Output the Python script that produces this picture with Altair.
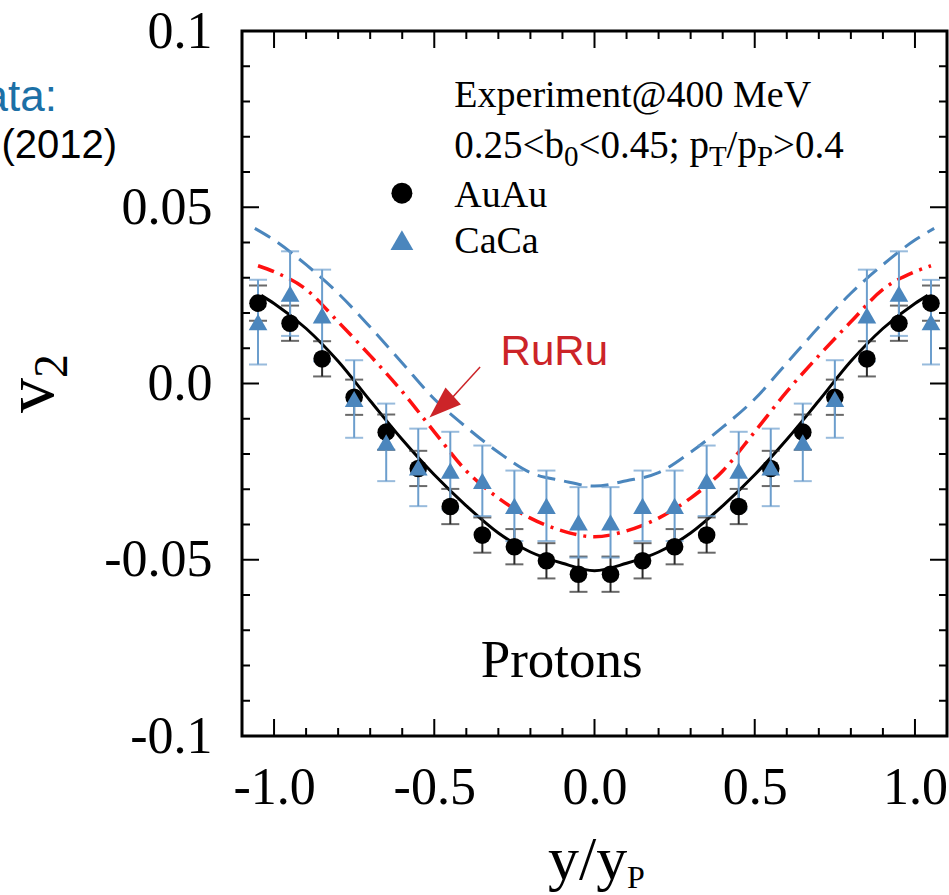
import altair as alt
import pandas as pd

# ---------------- data ----------------
pt_x = [-1.05, -0.95, -0.85, -0.75, -0.65, -0.55, -0.45, -0.35, -0.25, -0.15, -0.05,
        0.05, 0.15, 0.25, 0.35, 0.45, 0.55, 0.65, 0.75, 0.85, 0.95, 1.05]
auau_v2 = [0.0228, 0.0171, 0.0070, -0.0039, -0.0138, -0.0241, -0.0349, -0.0430, -0.0463, -0.0503, -0.0541,
           -0.0541, -0.0503, -0.0463, -0.0430, -0.0349, -0.0241, -0.0138, -0.0039, 0.0070, 0.0171, 0.0228]
auau_err = [0.005] * 22
caca_v2 = [0.0174, 0.0255, 0.0193, -0.0044, -0.0167, -0.0238, -0.0247, -0.0276, -0.0347, -0.0347, -0.0394,
           -0.0394, -0.0347, -0.0347, -0.0276, -0.0247, -0.0238, -0.0167, -0.0044, 0.0193, 0.0255, 0.0174]
caca_err = [0.012, 0.012, 0.013, 0.011, 0.011, 0.011, 0.011, 0.010, 0.010, 0.010, 0.010,
            0.010, 0.010, 0.010, 0.010, 0.011, 0.011, 0.011, 0.011, 0.013, 0.012, 0.012]

black_x = [-1.04, -1.0, -0.9, -0.8, -0.7, -0.6, -0.5, -0.4, -0.3, -0.2, -0.1, 0.0,
           0.1, 0.2, 0.3, 0.4, 0.5, 0.6, 0.7, 0.8, 0.9, 1.0, 1.04]
black_v2 = [0.0250, 0.0227, 0.0156, 0.0063, -0.0049, -0.0159, -0.0259, -0.0347, -0.0424, -0.0478, -0.0510, -0.0531,
            -0.0510, -0.0478, -0.0424, -0.0347, -0.0259, -0.0159, -0.0049, 0.0063, 0.0156, 0.0227, 0.0250]
red_x = [-1.05, -1.0, -0.9, -0.8, -0.7, -0.6, -0.5, -0.4, -0.3, -0.2, -0.1, 0.0,
         0.1, 0.2, 0.3, 0.4, 0.5, 0.6, 0.7, 0.8, 0.9, 1.0, 1.05]
red_v2 = [0.0334, 0.0317, 0.0267, 0.0175, 0.0079, -0.0023, -0.0137, -0.0248, -0.0325, -0.0382, -0.0418, -0.0435,
          -0.0418, -0.0382, -0.0325, -0.0248, -0.0137, -0.0023, 0.0079, 0.0175, 0.0267, 0.0317, 0.0334]
blue_x = [-1.06, -1.0, -0.9, -0.8, -0.7, -0.6, -0.5, -0.4, -0.3, -0.2, -0.1, 0.0,
          0.1, 0.2, 0.3, 0.4, 0.5, 0.6, 0.7, 0.8, 0.9, 1.0, 1.06]
blue_v2 = [0.0440, 0.0407, 0.0337, 0.0256, 0.0160, 0.0058, -0.0044, -0.0124, -0.0195, -0.0253, -0.0276, -0.0291,
           -0.0276, -0.0253, -0.0195, -0.0124, -0.0044, 0.0058, 0.0160, 0.0256, 0.0337, 0.0407, 0.0440]

x_labels = [-1.0, -0.5, 0.0, 0.5, 1.0]
y_labels = [-0.1, -0.05, 0.0, 0.05, 0.1]
x_major_ticks = [-1.0, -0.5, 0.0, 0.5, 1.0]
x_minor_ticks = [-0.9, -0.8, -0.7, -0.6, -0.4, -0.3, -0.2, -0.1,
                 0.1, 0.2, 0.3, 0.4, 0.6, 0.7, 0.8, 0.9]
y_major_ticks = [-0.05, 0.0, 0.05]
y_minor_ticks = [-0.09, -0.08, -0.07, -0.06, -0.04, -0.03, -0.02, -0.01,
                 0.01, 0.02, 0.03, 0.04, 0.06, 0.07, 0.08, 0.09]

# annotation anchors (data coordinates)
info_x = -0.4375
info_line1_y = 0.0784
info_line2_y = 0.0640
legend_text_y = [0.0501, 0.0370]
legend_names = ["AuAu", "CaCa"]
legend_marker_x = -0.601
legend_marker_y = [0.0540, 0.0407]
ruru_pos = (-0.293, 0.0052)
arrow_from = (-0.357, 0.0047)
arrow_to = (-0.445, -0.0041)
arrow_head = (-0.478, -0.0066)
protons_pos = (-0.355, -0.0833)

# ---------------- styles ----------------
W = H = 705
SERIF = "Liberation Serif"
SANS = "Liberation Sans"
BLUE = "#4b86bd"
BLUE_ERR = "#6c9ecd"
RED_TXT = "#cc2428"

xs = alt.Scale(domain=[-1.1, 1.1], nice=False, zero=False)
ys = alt.Scale(domain=[-0.1, 0.1], nice=False, zero=False)
xaxis = alt.Axis(values=x_labels, title=None, domain=False, ticks=False, grid=False,
                 labelExpr="replace(format(datum.value, '.1f'), '\u2212', '-')",
                 labelFont=SERIF, labelFontSize=52, labelColor="black",
                 labelPadding=26, labelFlush=False, labelOverlap=False)
yaxis = alt.Axis(values=y_labels, title=None, domain=False, ticks=False, grid=False,
                 labelExpr="datum.value == 0 ? '0.0' : '' + datum.value",
                 labelFont=SERIF, labelFontSize=52, labelColor="black",
                 labelPadding=30, labelFlush=False, labelOverlap=False)


def X(f):
    return alt.X(f, type="quantitative", scale=xs, axis=xaxis)


def Y(f):
    return alt.Y(f, type="quantitative", scale=ys, axis=yaxis)


pts = pd.DataFrame({"x": pt_x, "au": auau_v2, "au_err": auau_err, "ca": caca_v2, "ca_err": caca_err})
pts["au_lo"] = pts["au"] - pts["au_err"]
pts["au_hi"] = pts["au"] + pts["au_err"]
pts["ca_lo"] = pts["ca"] - pts["ca_err"]
pts["ca_hi"] = pts["ca"] + pts["ca_err"]

layers = []

# curves
layers.append(alt.Chart(pd.DataFrame({"x": blue_x, "v": blue_v2})).mark_line(
    color=BLUE, strokeWidth=3, strokeDash=[18, 9], interpolate="monotone").encode(x=X("x"), y=Y("v")))
layers.append(alt.Chart(pd.DataFrame({"x": red_x, "v": red_v2})).mark_line(
    color="#ff1010", strokeWidth=3.5, strokeDash=[17, 7, 3, 7], interpolate="monotone").encode(x=X("x"), y=Y("v")))
layers.append(alt.Chart(pd.DataFrame({"x": black_x, "v": black_v2})).mark_line(
    color="black", strokeWidth=3, interpolate="monotone").encode(x=X("x"), y=Y("v")))

# error bars
base = alt.Chart(pts)
layers.append(base.mark_rule(color="#2a2a2a", strokeWidth=2).encode(x=X("x"), y=Y("au_lo"), y2="au_hi"))
layers.append(base.mark_tick(color="#2a2a2a", thickness=2, size=18, orient="horizontal").encode(x=X("x"), y=Y("au_lo")))
layers.append(base.mark_tick(color="#2a2a2a", thickness=2, size=18, orient="horizontal").encode(x=X("x"), y=Y("au_hi")))
layers.append(base.mark_rule(color=BLUE_ERR, strokeWidth=2).encode(x=X("x"), y=Y("ca_lo"), y2="ca_hi"))
layers.append(base.mark_tick(color=BLUE_ERR, thickness=2, size=18, orient="horizontal").encode(x=X("x"), y=Y("ca_lo")))
layers.append(base.mark_tick(color=BLUE_ERR, thickness=2, size=18, orient="horizontal").encode(x=X("x"), y=Y("ca_hi")))

# points
layers.append(base.mark_point(shape="circle", filled=True, color="black", opacity=1, size=310).encode(x=X("x"), y=Y("au")))
layers.append(base.mark_point(shape="triangle-up", filled=True, color=BLUE, opacity=1, size=350).encode(x=X("x"), y=Y("ca")))

# inward ticks on all four sides
xmj = alt.Chart(pd.DataFrame({"x": x_major_ticks}))
xmn = alt.Chart(pd.DataFrame({"x": x_minor_ticks}))
ymj = alt.Chart(pd.DataFrame({"y": y_major_ticks}))
ymn = alt.Chart(pd.DataFrame({"y": y_minor_ticks}))
for ch, ln in ((xmj, 17), (xmn, 8)):
    layers.append(ch.mark_rule(color="black", strokeWidth=2).encode(x=X("x"), y=alt.value(H), y2=alt.value(H - ln)))
    layers.append(ch.mark_rule(color="black", strokeWidth=2).encode(x=X("x"), y=alt.value(0), y2=alt.value(ln)))
for ch, ln in ((ymj, 17), (ymn, 8)):
    layers.append(ch.mark_rule(color="black", strokeWidth=2).encode(y=Y("y"), x=alt.value(0), x2=alt.value(ln)))
    layers.append(ch.mark_rule(color="black", strokeWidth=2).encode(y=Y("y"), x=alt.value(W - ln), x2=alt.value(W)))

# info text
layers.append(alt.Chart(pd.DataFrame({"x": [info_x], "y": [info_line1_y], "t": ["Experiment@400 MeV"]})).mark_text(
    font=SERIF, fontSize=38, align="left", baseline="alphabetic", color="black").encode(x=X("x"), y=Y("y"), text="t:N"))

# second line with subscripts
TW = {"0": 500, "1": 500, "2": 500, "3": 500, "4": 500, "5": 500, ".": 250, "<": 564, ">": 564,
      "b": 500, ";": 278, " ": 250, "p": 500, "/": 278, "T": 611, "P": 556}
F, S, SH = 39, 29, 8
segs = [("0.25<b", False), ("0", True), ("<0.45; p", False), ("T", True), ("/p", False), ("P", True), (">0.4", False)]
off = 0.0
for txt, sub in segs:
    fs = S if sub else F
    layers.append(alt.Chart(pd.DataFrame({"x": [info_x], "y": [info_line2_y], "t": [txt]})).mark_text(
        font=SERIF, fontSize=fs, align="left", baseline="alphabetic", color="black",
        dx=off, dy=SH if sub else 0).encode(x=X("x"), y=Y("y"), text="t:N"))
    off += sum(TW[c] for c in txt) * fs / 1000.0

# legend
leg = pd.DataFrame({"x": [info_x] * 2, "y": legend_text_y, "t": legend_names})
layers.append(alt.Chart(leg).mark_text(font=SERIF, fontSize=38, align="left", baseline="alphabetic",
                                       color="black").encode(x=X("x"), y=Y("y"), text="t:N"))
layers.append(alt.Chart(pd.DataFrame({"x": [legend_marker_x], "y": [legend_marker_y[0]]})).mark_point(
    shape="circle", filled=True, color="black", opacity=1, size=440).encode(x=X("x"), y=Y("y")))
layers.append(alt.Chart(pd.DataFrame({"x": [legend_marker_x], "y": [legend_marker_y[1]]})).mark_point(
    shape="triangle-up", filled=True, color=BLUE, opacity=1, size=520).encode(x=X("x"), y=Y("y")))

# RuRu annotation + arrow
layers.append(alt.Chart(pd.DataFrame({"x": [ruru_pos[0]], "y": [ruru_pos[1]], "t": ["RuRu"]})).mark_text(
    font=SANS, fontSize=42, align="left", baseline="alphabetic", color=RED_TXT).encode(x=X("x"), y=Y("y"), text="t:N"))
layers.append(alt.Chart(pd.DataFrame({"x": [arrow_from[0]], "y": [arrow_from[1]],
                                      "x2": [arrow_to[0]], "y2": [arrow_to[1]]})).mark_rule(
    color=RED_TXT, strokeWidth=1.5).encode(x=X("x"), y=Y("y"), x2="x2", y2="y2"))
layers.append(alt.Chart(pd.DataFrame({"x": [arrow_head[0]], "y": [arrow_head[1]]})).mark_point(
    shape="M0,-1L0.72,1L-0.72,1Z", filled=True, color=RED_TXT, opacity=1, size=1024, angle=228,
    strokeWidth=0).encode(x=X("x"), y=Y("y")))

# Protons
layers.append(alt.Chart(pd.DataFrame({"x": [protons_pos[0]], "y": [protons_pos[1]], "t": ["Protons"]})).mark_text(
    font=SERIF, fontSize=53, align="left", baseline="alphabetic", color="black").encode(x=X("x"), y=Y("y"), text="t:N"))


# axis titles & cut-off side texts (pixel positions relative to plot area)
def ptext(t, px, py, size, font=SERIF, color="black", align="left", angle=0):
    return alt.Chart(pd.DataFrame({"t": [t]})).mark_text(
        font=font, fontSize=size, align=align, baseline="alphabetic", color=color, angle=angle
    ).encode(x=alt.value(px), y=alt.value(py), text="t:N")


layers.append(ptext("y/y", 306, 848, 62))
layers.append(ptext("P", 385, 857, 32))
layers.append(ptext("v", -189, 382, 70, angle=270))
layers.append(ptext("2", -175, 347, 48, angle=270))
layers.append(ptext("Data:", -185, 80, 44, font=SANS, color="#1c70a6", align="right"))
layers.append(ptext("(2012)", -125, 127, 40, font=SANS, align="right"))

chart = alt.layer(*layers).properties(
    width=W, height=H,
    padding={"left": 242, "top": 31, "right": 2, "bottom": 159},
    autosize=alt.AutoSizeParams(type="none"),
    background="white",
).configure_view(stroke="black", strokeWidth=3)

chart.save("out.html", embed_options={"renderer": "svg", "actions": False})
